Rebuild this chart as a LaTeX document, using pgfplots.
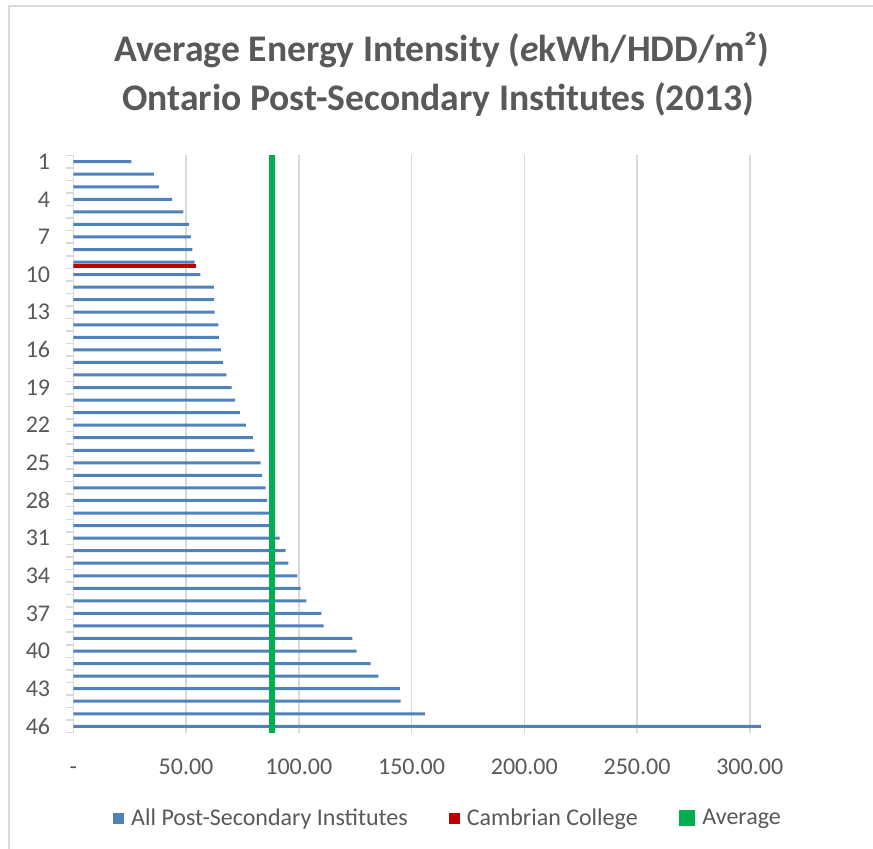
\documentclass[border=0pt]{standalone}
\usepackage{fontspec}
\setmainfont{Carlito}
\usepackage{pgfplots}
\pgfplotsset{compat=1.18}
\usepackage{pgfplotstable}
\definecolor{barblue}{HTML}{4F81BD}
\definecolor{camred}{HTML}{C00000}
\definecolor{avggreen}{HTML}{00B050}
\definecolor{txtgray}{HTML}{595959}
\definecolor{linegray}{HTML}{D9D9D9}
\pgfplotstableread{
idx val
1 25.7
2 35.7
3 37.9
4 43.8
5 48.8
6 51.2
7 52.1
8 52.8
9 53.8
10 56.3
11 62.3
12 62.5
13 62.7
14 64.3
15 64.6
16 65.4
17 66.3
18 67.9
19 70.2
20 71.6
21 73.9
22 76.5
23 79.6
24 80.3
25 83.1
26 83.7
27 85.3
28 86.0
29 86.7
30 89.4
31 91.5
32 94.2
33 95.4
34 99.4
35 100.8
36 103.4
37 110.0
38 111.0
39 123.8
40 125.7
41 131.9
42 135.3
43 144.8
44 145.2
45 155.9
46 304.9
}\alldata
\pgfplotstableread{
idx val
9 54.3
}\cambrian
\pgfplotstableread{
val idx
88.2 0.5
88.2 46.5
}\avgline
\begin{document}
\begin{tikzpicture}[x=1bp,y=1bp]
\useasboundingbox (0,0) rectangle (873,849);
\fill[white] (0,0) rectangle (873,849);
\draw[linegray, line width=2bp] (9,0) -- (9,843) -- (873,843);
\node[anchor=base, inner sep=0pt, text=txtgray, font=\fontsize{37.6bp}{44bp}\selectfont\bfseries] at (442,787) {Average Energy Intensity (\textit{e}kWh/HDD/m²)};
\node[anchor=base, inner sep=0pt, text=txtgray, font=\fontsize{37.6bp}{44bp}\selectfont\bfseries] at (438,738) {Ontario Post-Secondary Institutes (2013)};
\begin{axis}[
  at={(73.3bp,116.4bp)}, anchor=south west,
  scale only axis, width=699bp, height=577.2bp,
  xmin=0, xmax=310, ymin=0.5, ymax=46.5, y dir=reverse,
  axis x line*=bottom, axis y line*=left,
  x axis line style={draw=none},
  y axis line style={draw=linegray, line width=1.5bp},
  xtick={0,50,...,300},
  xticklabels={{-\hspace{10bp}},50.00,100.00,150.00,200.00,250.00,300.00},
  ytick={1,4,...,46},
  minor ytick={0.5,1.5,...,46.5},
  major tick length=0pt, minor tick length=7bp,
  tick align=outside,
  every minor tick/.append style={draw=linegray, line width=1.5bp},
  xmajorgrids, major grid style={draw=linegray, line width=1.5bp},
  /pgf/number format/assume math mode=true,
  tick label style={font=\fontsize{24bp}{28bp}\selectfont, text=txtgray},
  yticklabel style={anchor=east, inner sep=0pt, xshift=-23bp},
  xticklabel style={anchor=base, inner sep=0pt, yshift=-42bp},
  legend style={at={(axis description cs:0.0568,-0.148)}, anchor=west, draw=none, fill=none,
    inner sep=0pt, legend columns=3, font=\fontsize{24bp}{28bp}\selectfont, text=txtgray,
    nodes={inner sep=0pt},
    /tikz/every odd column/.append style={column sep=7bp},
    /tikz/every even column/.append style={column sep=41bp}},
  legend cell align=left,
]
\addplot[xbar, bar width=3bp, bar shift=0pt, fill=barblue, draw=none,
  legend image code/.code={\fill[barblue] (0bp,-5.5bp) rectangle (11bp,5.5bp);}]
  table[x=val, y=idx] {\alldata};
\addlegendentry{All Post-Secondary Institutes}
\addplot[xbar, bar width=4bp, bar shift=-3.5bp, fill=camred, draw=none,
  legend image code/.code={\fill[camred] (0bp,-5.5bp) rectangle (11bp,5.5bp);}]
  table[x=val, y=idx] {\cambrian};
\addlegendentry{Cambrian College}
\addplot[avggreen, line width=5.7bp, line cap=butt,
  legend image code/.code={\fill[avggreen] (0bp,-5.5bp) rectangle (11bp,5.5bp);}]
  table[x=val, y=idx] {\avgline};
\addlegendentry{Average}
\end{axis}
\end{tikzpicture}
\end{document}
